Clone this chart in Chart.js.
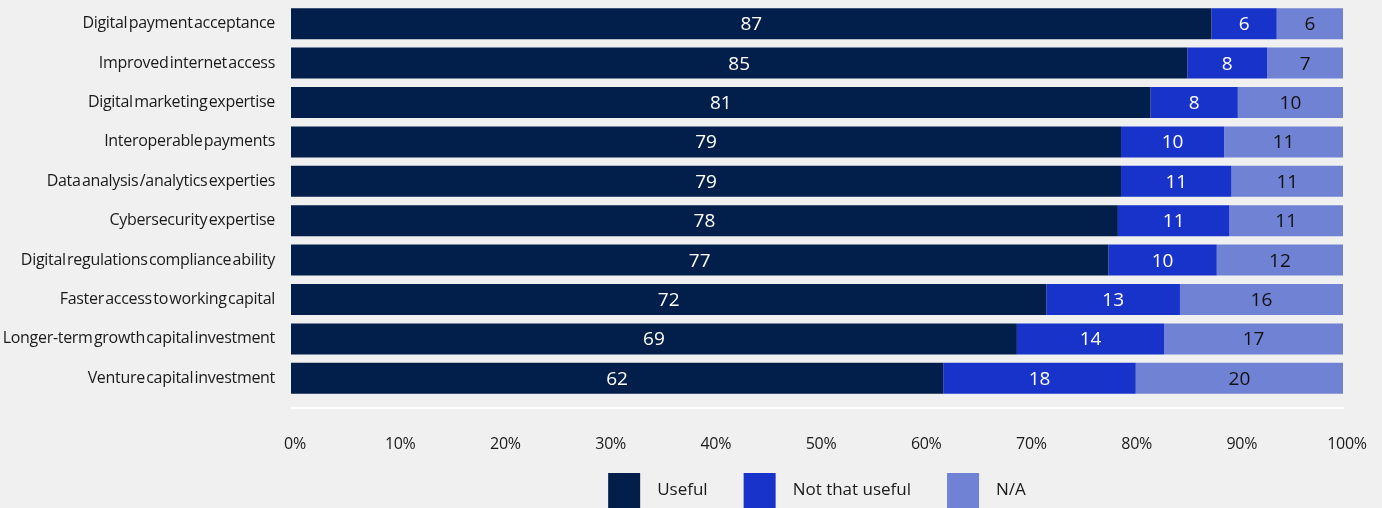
<!DOCTYPE html>
<html>
<head>
<meta charset="utf-8">
<script src="https://cdn.jsdelivr.net/npm/chart.js@4"></script>
<style>
  html, body { margin: 0; padding: 0; background: #f0f0f0; overflow: hidden; }
  #wrap { position: relative; width: 1382px; height: 508px; }
</style>
</head>
<body>
<div id="wrap"><canvas id="chart"></canvas></div>
<script>
const categories = [
    'Digital payment acceptance',
    'Improved internet access',
    'Digital marketing expertise',
    'Interoperable payments',
    'Data analysis /analytics experties',
    'Cybersecurity expertise',
    'Digital regulations compliance ability',
    'Faster access to working capital',
    'Longer-term growth capital investment',
    'Venture capital investment'
];

// bar lengths (shares of 100%)
const useful = [87.5, 85.2, 81.7, 78.9, 78.9, 78.6, 77.7, 71.8, 69.0, 62.0];
const notUseful = [6.2, 7.6, 8.3, 9.8, 10.5, 10.6, 10.3, 12.7, 14.0, 18.3];
const notApplicable = [6.3, 7.2, 10.0, 11.3, 10.6, 10.8, 12.0, 15.5, 17.0, 19.7];

// printed numbers inside the bars
const usefulLabels = [87, 85, 81, 79, 79, 78, 77, 72, 69, 62];
const notUsefulLabels = [6, 8, 8, 10, 11, 11, 10, 13, 14, 18];
const notApplicableLabels = [6, 7, 10, 11, 11, 11, 12, 16, 17, 20];

const seriesNames = ['Useful', 'Not that useful', 'N/A'];
const xTicks = [0, 10, 20, 30, 40, 50, 60, 70, 80, 90, 100];

const colors = ['#021f4b', '#1733c9', '#6f82d4'];
const labelColors = ['#ffffff', '#ffffff', '#111111'];
const FONT = "'Open Sans', sans-serif";

// the category labels in the original are set very tight
const tightText = {
    id: 'tightText',
    beforeDraw(chart) {
        chart.ctx.letterSpacing = '-0.3px';
        chart.ctx.wordSpacing = '-2.5px';
    },
    beforeDatasetsDraw(chart) {
        chart.ctx.letterSpacing = '0px';
        chart.ctx.wordSpacing = '0px';
    }
};

const valueLabels = {
    id: 'valueLabels',
    afterDatasetsDraw(chart) {
        const { ctx } = chart;
        const texts = [usefulLabels, notUsefulLabels, notApplicableLabels];
        ctx.save();
        ctx.font = '19px ' + FONT;
        ctx.textAlign = 'center';
        ctx.textBaseline = 'middle';
        chart.data.datasets.forEach((ds, di) => {
            const meta = chart.getDatasetMeta(di);
            ctx.fillStyle = labelColors[di];
            meta.data.forEach((bar, i) => {
                ctx.fillText(String(texts[di][i]), (bar.x + bar.base) / 2, bar.y + 1);
            });
        });
        ctx.restore();
    }
};

const axisLine = {
    id: 'axisLine',
    afterDraw(chart) {
        const { ctx, chartArea } = chart;
        ctx.save();
        ctx.strokeStyle = '#ffffff';
        ctx.lineWidth = 2;
        ctx.beginPath();
        ctx.moveTo(chartArea.left, chartArea.bottom + 10);
        ctx.lineTo(chartArea.right + 1, chartArea.bottom + 10);
        ctx.stroke();
        ctx.restore();
    }
};

const boxLegend = {
    id: 'boxLegend',
    afterDraw(chart) {
        const { ctx, chartArea } = chart;
        const box = 32, gap = 17, between = 36, top = 473;
        ctx.save();
        ctx.font = '17px ' + FONT;
        ctx.textBaseline = 'middle';
        const widths = seriesNames.map(n => ctx.measureText(n).width);
        const total = widths.reduce((a, w) => a + box + gap + w, 0) + between * (seriesNames.length - 1);
        let x = (chartArea.left + chartArea.right) / 2 - total / 2;
        seriesNames.forEach((n, i) => {
            ctx.fillStyle = colors[i];
            ctx.fillRect(x, top, box, 40);
            ctx.fillStyle = '#1a1a1a';
            ctx.fillText(n, x + box + gap, top + 17);
            x += box + gap + widths[i] + between;
        });
        ctx.restore();
    }
};

new Chart(document.getElementById('chart'), {
    type: 'bar',
    data: {
        labels: categories,
        datasets: [
            { label: seriesNames[0], data: useful, backgroundColor: colors[0] },
            { label: seriesNames[1], data: notUseful, backgroundColor: colors[1] },
            { label: seriesNames[2], data: notApplicable, backgroundColor: colors[2] }
        ]
    },
    options: {
        indexAxis: 'y',
        responsive: true,
        maintainAspectRatio: false,
        animation: false,
        datasets: {
            bar: { categoryPercentage: 0.786, barPercentage: 1, borderWidth: 0 }
        },
        layout: { padding: { top: 4, right: 39, left: 0, bottom: 0 } },
        scales: {
            x: {
                stacked: true,
                min: 0,
                max: 100,
                afterBuildTicks(scale) { scale.ticks = xTicks.map(v => ({ value: v })); },
                afterFit(scale) {
                    scale.height = 110;
                    scale.paddingLeft = 0;
                    scale.paddingRight = 0;
                },
                grid: { display: false, drawTicks: false },
                border: { display: false },
                ticks: {
                    padding: 37,
                    labelOffset: 4,
                    color: '#1a1a1a',
                    font: { family: FONT, size: 16 },
                    callback: v => v + '%'
                }
            },
            y: {
                stacked: true,
                afterFit(scale) {
                    scale.width = 291;
                    scale.paddingTop = 0;
                    scale.paddingBottom = 0;
                },
                grid: { display: false, drawTicks: false },
                border: { display: false },
                ticks: {
                    padding: 16,
                    color: '#1a1a1a',
                    font: { family: FONT, size: 16 }
                }
            }
        },
        plugins: {
            legend: { display: false },
            tooltip: { enabled: false }
        }
    },
    plugins: [tightText, valueLabels, axisLine, boxLegend]
});
</script>
</body>
</html>
